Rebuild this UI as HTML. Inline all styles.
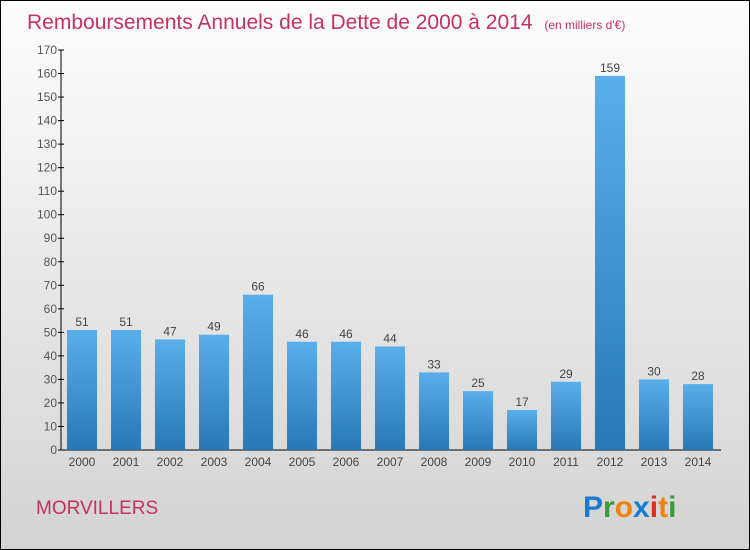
<!DOCTYPE html>
<html><head><meta charset="utf-8"><style>
html,body{margin:0;padding:0}
body{width:750px;height:550px;overflow:hidden;font-family:"Liberation Sans",sans-serif}
#wrap{position:absolute;left:0;top:0;width:748px;height:548px;border:1px solid #000;background:linear-gradient(to bottom,#fdfdfd 0%,#ececec 40%,#d3d3d3 100%)}
</style></head><body>
<div id="wrap">
<svg width="750" height="550" style="position:absolute;left:-1px;top:-1px">
<defs><linearGradient id="bg" x1="0" y1="0" x2="0" y2="1"><stop offset="0" stop-color="#5aaeea"/><stop offset="1" stop-color="#2878b8"/></linearGradient></defs>
<text x="27" y="29" font-size="21" fill="#c8305e">Remboursements Annuels de la Dette de 2000 à 2014 <tspan font-size="12" dx="6">(en milliers d'€)</tspan></text>
<g id="axes"></g><g id="bars"></g>
<text x="36" y="514" font-size="19" fill="#c8305e">MORVILLERS</text>
<g font-size="30" font-weight="bold" font-family="Liberation Sans, sans-serif">
<text x="583" y="517"><tspan fill="#1a7ad0">P</tspan><tspan fill="#3a9a3a">r</tspan><tspan fill="#f08010">o</tspan><tspan fill="#1a7ad0">x</tspan><tspan fill="#e03020">i</tspan><tspan fill="#f08010">t</tspan><tspan fill="#3a9a3a">i</tspan></text></g>
</svg></div>
<script>
const years=["2000","2001","2002","2003","2004","2005","2006","2007","2008","2009","2010","2011","2012","2013","2014"];
const values=[51,51,47,49,66,46,46,44,33,25,17,29,159,30,28];
const ticks=[0,10,20,30,40,50,60,70,80,90,100,110,120,130,140,150,160,170];
const NS="http://www.w3.org/2000/svg";
const y0=450,yTop=50,vmax=170,xAxis=61;
const yS=v=>y0-(v/vmax)*(y0-yTop);
const xC=i=>82+i*44;
function mk(t,a,p){const e=document.createElementNS(NS,t);for(const k in a)e.setAttribute(k,a[k]);p.appendChild(e);return e;}
const ax=document.getElementById('axes'),bg=document.getElementById('bars');
const yl=mk('line',{x1:xAxis,y1:yTop,x2:xAxis,y2:y0,stroke:'#000'},ax);


const xl=mk('line',{x1:xAxis,y1:y0,x2:721,y2:y0,stroke:'#000'},ax);


ticks.forEach(t=>{
 mk('line',{x1:xAxis-3,x2:xAxis+3,y1:yS(t),y2:yS(t),stroke:'#000'},ax);
 const tx=mk('text',{x:xAxis-4,y:yS(t)+4,'text-anchor':'end','font-size':'12',fill:'#555'},ax);
 tx.textContent=t;
 
 
});
years.forEach((y,i)=>{
 const v=values[i];
 const r=mk('rect',{x:xC(i)-15,y:yS(v),width:30,height:y0-yS(v),fill:'url(#bg)'},bg);
 
 
 const l=mk('text',{x:xC(i),y:yS(v)-4,'text-anchor':'middle','font-size':'12',fill:'#444'},bg);
 l.textContent=v;
 
 
 const xt=mk('text',{x:xC(i),y:466,'text-anchor':'middle','font-size':'12',fill:'#444'},bg);
 xt.textContent=y;
 
 
});
</script>
</body></html>
